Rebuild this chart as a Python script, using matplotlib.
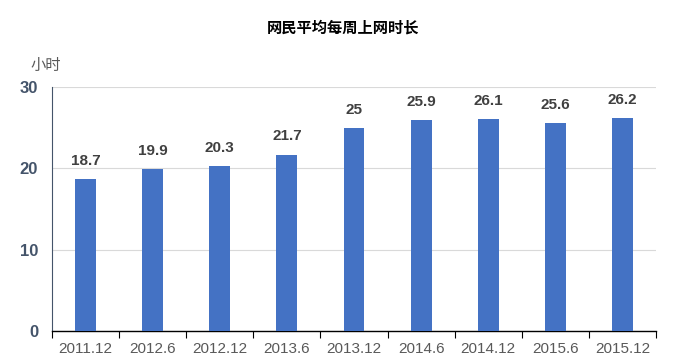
import numpy as np
import matplotlib
matplotlib.use('Agg')
import matplotlib.pyplot as plt

plt.rcParams['font.family'] = ['Liberation Sans', 'Noto Sans CJK SC', 'DejaVu Sans']

# data
periods = ['2011.12', '2012.6', '2012.12', '2013.6', '2013.12',
           '2014.6', '2014.12', '2015.6', '2015.12']
hours = [18.7, 19.9, 20.3, 21.7, 25, 25.9, 26.1, 25.6, 26.2]
value_labels = ['18.7', '19.9', '20.3', '21.7', '25',
                '25.9', '26.1', '25.6', '26.2']

fig = plt.figure(figsize=(6.87, 3.61), dpi=100)
ax = fig.add_axes([52 / 687, 30 / 361, 604 / 687, 244 / 361])

x = np.arange(len(periods))
bars = ax.bar(x, hours, width=0.31, color='#4472C4', zorder=3)

for b, lab in zip(bars, value_labels):
    ax.annotate(lab, (b.get_x() + b.get_width() / 2, b.get_height()),
                xytext=(0, 8), textcoords='offset points',
                ha='center', va='bottom', fontsize=11,
                fontweight='bold', color='#404040')

ax.set_xlim(-0.5, len(periods) - 0.5)
ax.set_ylim(0, 30)
ax.set_yticks([0, 10, 20, 30])
ax.yaxis.grid(True, color='#D9D9D9', linewidth=0.8, zorder=0)

# ticks between categories on the x axis
ax.set_xticks(np.arange(len(periods) + 1) - 0.5)
ax.set_xticklabels([])
ax.set_xticks(x, minor=True)
ax.set_xticklabels(periods, minor=True, fontsize=11, color='#595959')
ax.tick_params(axis='x', which='major', length=5, direction='out',
               color='black', width=0.8)
ax.tick_params(axis='x', which='minor', length=0, pad=8)
ax.tick_params(axis='y', length=0, pad=10, labelsize=12, labelcolor='#44546A')
for t in ax.get_yticklabels():
    t.set_fontweight('bold')

ax.spines['top'].set_visible(False)
ax.spines['right'].set_visible(False)
ax.spines['left'].set_color('#44546A')
ax.spines['bottom'].set_color('black')
ax.spines['bottom'].set_linewidth(1.0)

fig.text(0.5, 1 - 28 / 361, '网民平均每周上网时长', ha='center', va='center',
         fontsize=11, fontweight='bold', family=['Noto Sans CJK SC'])
fig.text(46 / 687, 1 - 65 / 361, '小时', ha='center', va='center',
         fontsize=11, color='#595959', family=['Noto Sans CJK SC'])

fig.savefig('out.png', dpi=100)
